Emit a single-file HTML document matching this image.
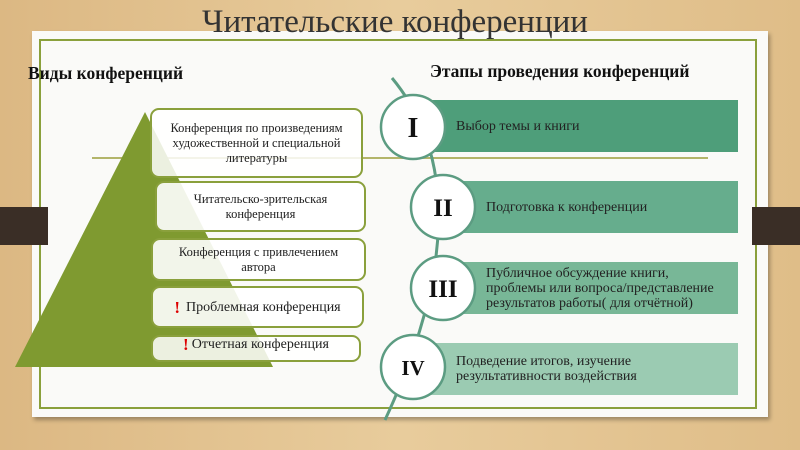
<!DOCTYPE html>
<html><head><meta charset="utf-8"><style>
body{margin:0;width:800px;height:450px;overflow:hidden;background:linear-gradient(90deg,#dcb883,#e8cc9c 50%,#dfbd88);font-family:"Liberation Serif","Noto Serif CJK SC",serif;position:relative}
.a{position:absolute}
.box{position:absolute;background:rgba(255,255,255,0.9);border:2px solid #8aa03c;border-radius:9px;box-sizing:border-box;text-align:center;font-size:12.5px;line-height:15px;color:#222;display:flex;align-items:center;justify-content:center}
.bar{position:absolute;left:430px;width:308px;height:52px;font-size:14px;line-height:15px;color:#222;display:flex;align-items:center;padding-left:56px;box-sizing:border-box}
</style></head><body>
<div class="a" style="left:32px;top:31px;width:736px;height:386px;background:#fafaf8;box-shadow:2px 3px 4px rgba(0,0,0,.3)"></div>
<div class="a" style="left:39px;top:39px;width:718px;height:370px;border:2px solid #8aa03c;box-sizing:border-box"></div>
<div class="a" style="left:0;top:207px;width:48px;height:38px;background:#3a2e26"></div>
<div class="a" style="left:752px;top:207px;width:48px;height:38px;background:#3a2e26"></div>
<div class="a" style="left:0;top:2px;width:790px;text-align:center;font-size:33px;color:#333;line-height:40px">Читательские конференции</div>
<div class="a" style="left:28px;top:63px;font-size:17.5px;font-weight:bold;color:#111">Виды конференций</div>
<div class="a" style="left:430px;top:61px;font-size:17.5px;font-weight:bold;color:#111">Этапы проведения конференций</div>
<div class="a" style="left:92px;top:157px;width:616px;height:2px;background:#b3b56a"></div>
<svg class="a" style="left:0;top:0" width="800" height="450">
<polygon points="145,112 15,367 273,367" fill="#7f9a30"/>
<path d="M392,78 C460,160 450,280 385,420" stroke="#5c9c82" stroke-width="3" fill="none"/>
</svg>
<div class="box" style="left:150px;top:108px;width:213px;height:70px;background:rgba(255,255,255,0.85)">Конференция по произведениям<br>художественной и специальной<br>литературы</div>
<div class="box" style="left:155px;top:181px;width:211px;height:51px">Читательско-зрительская<br>конференция</div>
<div class="box" style="left:151px;top:238px;width:215px;height:43px">Конференция с привлечением<br>автора</div>
<div class="box" style="left:151px;top:286px;width:213px;height:42px;font-size:14px"><span style="color:#d00;font-weight:bold;font-size:17px;margin-right:6px">!</span>Проблемная конференция</div>
<div class="box" style="left:151px;top:335px;width:210px;height:27px;font-size:14px;align-items:flex-start;line-height:16px;background:rgba(255,255,255,0.85)"><span style="color:#d00;font-weight:bold;font-size:17px;margin-right:3px">!</span>Отчетная конференция</div>
<div class="bar" style="top:100px;background:#4e9e7a;padding-left:26px">Выбор темы и книги</div>
<div class="bar" style="top:181px;background:#66ad8d">Подготовка к конференции</div>
<div class="bar" style="top:262px;background:#78b797">Публичное обсуждение книги,<br>проблемы или вопроса/представление<br>результатов работы( для отчётной)</div>
<div class="bar" style="top:343px;background:#9bcbb2;padding-left:26px">Подведение итогов, изучение<br>результативности воздействия</div>
<svg class="a" style="left:0;top:0" width="800" height="450">
<g fill="#fff" stroke="#5c9c82" stroke-width="2.5">
<circle cx="413" cy="127" r="32"/><circle cx="443" cy="207" r="32"/><circle cx="443" cy="288" r="32"/><circle cx="413" cy="367" r="32"/>
</g>
<g fill="#111" font-family="Liberation Serif" font-weight="bold" text-anchor="middle">
<text x="413" y="137" font-size="28">I</text>
<text x="443" y="216" font-size="25">II</text>
<text x="443" y="297" font-size="25">III</text>
<text x="413" y="375" font-size="21">IV</text>
</g>
</svg>
</body></html>
